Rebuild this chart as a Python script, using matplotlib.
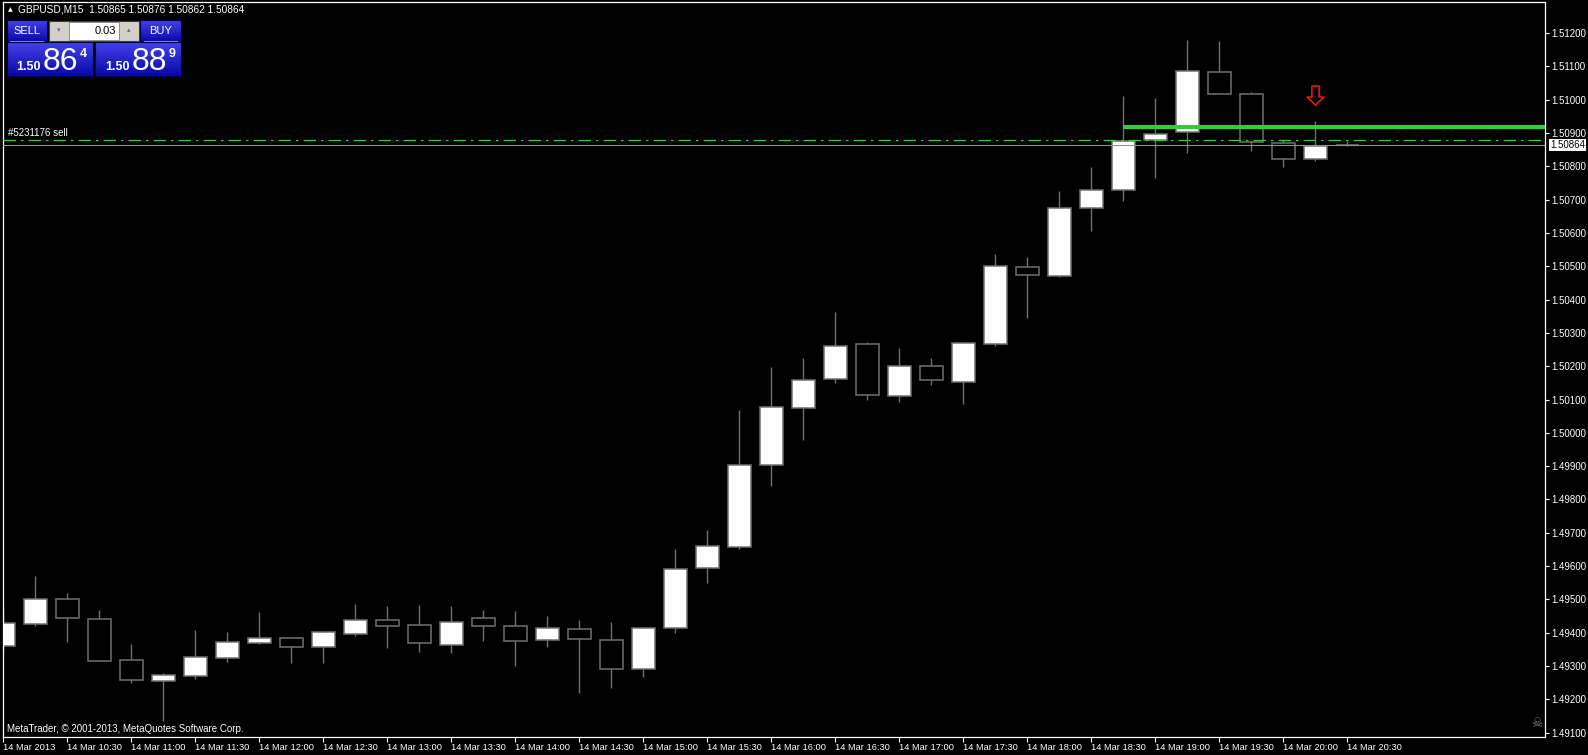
import numpy as np
import pandas as pd
import matplotlib
matplotlib.use('Agg')
import matplotlib.pyplot as plt
import matplotlib.transforms as mtransforms
from matplotlib.patches import Rectangle
from matplotlib.path import Path
from matplotlib.ticker import MultipleLocator, FormatStrFormatter
from matplotlib.colors import to_rgb

plt.rcParams['font.family'] = ['Liberation Sans', 'DejaVu Sans']

# GBPUSD M15 bars, 14 Mar 2013 10:00 - 20:30
times = pd.date_range('2013-03-14 10:00', periods=43, freq='15min')
opens = [1.49359, 1.49427, 1.49500, 1.49440, 1.49317, 1.49254, 1.49271, 1.49325, 1.49370, 1.49383,
         1.49358, 1.49397, 1.49437, 1.49422, 1.49362, 1.49443, 1.49419, 1.49377, 1.49410, 1.49377,
         1.49290, 1.49413, 1.49593, 1.49656, 1.49903, 1.50074, 1.50161, 1.50266, 1.50110, 1.50200,
         1.50152, 1.50266, 1.50497, 1.50470, 1.50674, 1.50728, 1.50878, 1.50902, 1.51082, 1.51016,
         1.50869, 1.50821, 1.50865]
highs = [1.49477, 1.49570, 1.49519, 1.49468, 1.49366, 1.49278, 1.49408, 1.49402, 1.49462, 1.49387,
         1.49402, 1.49486, 1.49480, 1.49483, 1.49480, 1.49468, 1.49465, 1.49450, 1.49438, 1.49432,
         1.49416, 1.49651, 1.49708, 1.50069, 1.50198, 1.50225, 1.50363, 1.50273, 1.50255, 1.50225,
         1.50273, 1.50537, 1.50528, 1.50725, 1.50798, 1.51011, 1.51005, 1.51179, 1.51176, 1.51023,
         1.50878, 1.50936, 1.50876]
lows = [1.49345, 1.49421, 1.49373, 1.49314, 1.49250, 1.49136, 1.49262, 1.49313, 1.49367, 1.49310,
        1.49310, 1.49390, 1.49354, 1.49342, 1.49340, 1.49375, 1.49300, 1.49357, 1.49220, 1.49235,
        1.49268, 1.49400, 1.49550, 1.49650, 1.49841, 1.49979, 1.50150, 1.50099, 1.50093, 1.50144,
        1.50087, 1.50262, 1.50346, 1.50469, 1.50607, 1.50697, 1.50766, 1.50841, 1.51016, 1.50847,
        1.50799, 1.50817, 1.50862]
closes = [1.49428, 1.49500, 1.49443, 1.49314, 1.49257, 1.49272, 1.49326, 1.49371, 1.49383, 1.49358,
          1.49401, 1.49437, 1.49421, 1.49368, 1.49431, 1.49419, 1.49374, 1.49413, 1.49380, 1.49290,
          1.49413, 1.49590, 1.49659, 1.49903, 1.50077, 1.50158, 1.50260, 1.50113, 1.50200, 1.50158,
          1.50269, 1.50500, 1.50473, 1.50674, 1.50728, 1.50875, 1.50896, 1.51085, 1.51016, 1.50872,
          1.50821, 1.50862, 1.50864]

bid = 1.50864
ask = 1.50889
lot = '0.03'
order_label = '#5231176 sell'
order_price = 1.50878      # open price of the sell order
tp_price = 1.50918         # horizontal line drawn from the 18:45 bar
tp_start = 35
signal_bar = 41            # red sell arrow
signal_price = 1.51015

tick_pos = list(range(0, 43, 2))
tick_labels = ['14 Mar 2013'] + [times[i].strftime('14 Mar %H:%M') for i in tick_pos[1:]]

# figure
fig = plt.figure(figsize=(15.88, 7.55), dpi=100, facecolor='black')
ax = fig.add_axes([2.5 / 1588, 18 / 755, 1542.5 / 1588, 735 / 755])
ax.set_facecolor('black')

x = np.arange(len(times))
o = np.array(opens)
c = np.array(closes)
edge = '#707070'
body_col = np.where(c > o, 'white', 'black')

ax.vlines(x, lows, highs, color=edge, lw=1.0, zorder=1)
ax.bar(x, c - o, bottom=o, width=0.72, color=body_col, edgecolor=edge, linewidth=1.1, zorder=2)

# order / price lines
ax.axhline(bid, color='#8592a0', lw=0.8, zorder=3)
ax.axhline(order_price, color='#32cd32', lw=0.9, ls=(0, (10, 4, 2, 4)), zorder=4)
ax.hlines(tp_price, tp_start, 60, color='#32cd32', lw=3, zorder=5)

# sell arrow
verts = [(-0.38, 1), (0.38, 1), (0.38, -0.16), (0.88, -0.16), (0, -1), (-0.88, -0.16), (-0.38, -0.16), (-0.38, 1)]
codes = [Path.MOVETO] + [Path.LINETO] * 6 + [Path.CLOSEPOLY]
ax.plot(signal_bar, signal_price, marker=Path(verts, codes), ms=13.7, mfc='black', mec='#ff1010',
        mew=1.1, ls='none', zorder=6)

blend = mtransforms.blended_transform_factory(ax.transAxes, ax.transData)
ax.annotate(order_label, xy=(0.0036, order_price), xycoords=blend, xytext=(0, 1.5),
            textcoords='offset points', va='bottom', ha='left', color='white', fontsize=7)
ax.annotate(f'{bid:.5f}', xy=(1, bid), xycoords=blend, xytext=(3.5, 0), textcoords='offset points',
            va='center', ha='left', color='black', fontsize=7, annotation_clip=False,
            bbox=dict(boxstyle='square,pad=0.12', fc='white', ec='none'))

ax.text(0.003, 0.011, 'MetaTrader, \u00a9 2001-2013, MetaQuotes Software Corp.', transform=ax.transAxes,
        color='white', fontsize=7, ha='left', va='center')
ax.text(0.9945, 0.019, '\u2620', transform=ax.transAxes, color='#7a7a7a', fontsize=9,
        ha='center', va='center', family='DejaVu Sans')

# axes
ax.set_xlim(-0.025, 48.18)
ax.set_ylim(1.490871, 1.512930)
ax.yaxis.tick_right()
ax.yaxis.set_major_locator(MultipleLocator(0.001))
ax.yaxis.set_major_formatter(FormatStrFormatter('%.5f'))
ax.tick_params(axis='y', direction='out', length=3, width=0.8, color='white', labelcolor='white',
               labelsize=7, pad=1.5)
ax.set_xticks(tick_pos)
ax.set_xticklabels(tick_labels)
for lab in ax.get_xticklabels():
    lab.set_horizontalalignment('left')
ax.tick_params(axis='x', direction='out', length=3.5, width=0.8, color='white', labelcolor='white',
               labelsize=6.7, pad=1)
for s in ax.spines.values():
    s.set_color('white')
    s.set_linewidth(0.9)

# header and one-click trading panel (pixel coordinates)
ov = fig.add_axes([0, 0, 1, 1], zorder=10)
ov.axis('off')
ov.patch.set_alpha(0)

ov.text(10.5, 9.5, '\u25b2', color='white', fontsize=4.5, ha='center', va='center', family='DejaVu Sans')
ov.text(18, 10, f'GBPUSD,M15  {opens[-1]:.5f} {highs[-1]:.5f} {lows[-1]:.5f} {closes[-1]:.5f}',
        color='white', fontsize=7.3, ha='left', va='center')


def blue_box(x0, y0, x1, y1, top='#4242ea', bottom='#0808a8'):
    g = np.linspace(0, 1, 40)[:, None, None]
    img = np.array(to_rgb(top)) * (1 - g) + np.array(to_rgb(bottom)) * g
    ov.imshow(img, extent=(x0, x1, y1, y0), origin='upper', aspect='auto', zorder=1,
              interpolation='bilinear')
    ov.add_patch(Rectangle((x0, y0), x1 - x0, y1 - y0, fill=False, ec='#00004a', lw=0.8, zorder=2))


blue_box(6.5, 20, 46.5, 42)
blue_box(140, 20, 181, 42)
blue_box(6.5, 42, 93, 76)
blue_box(95, 42, 181, 76)
for x0, x1 in [(10, 43), (144, 177)]:
    ov.plot([x0, x1], [41, 41], color='#9a9af0', lw=0.6, zorder=3)
ov.text(26.5, 30.5, 'SELL', color='white', fontsize=8, ha='center', va='center', zorder=3)
ov.text(160.5, 30.5, 'BUY', color='white', fontsize=8, ha='center', va='center', zorder=3)

# lot size spinner
ov.add_patch(Rectangle((48.5, 20.5), 90, 20, fc='#d4d0c8', ec='#404040', lw=0.8, zorder=2))
ov.add_patch(Rectangle((68.5, 21.5), 50, 18, fc='white', ec='#808080', lw=0.6, zorder=3))
ov.text(116, 30.5, lot, color='black', fontsize=8, ha='right', va='center', zorder=4)
ov.text(58.5, 30.5, '\u25be', color='#5a6a9a', fontsize=5, ha='center', va='center', zorder=4,
        family='DejaVu Sans')
ov.text(128.5, 30.5, '\u25b4', color='#5a6a9a', fontsize=5, ha='center', va='center', zorder=4,
        family='DejaVu Sans')

# bid / ask big digits
for price, x0 in [(bid, 16.5), (ask, 105)]:
    s = f'{price:.5f}'
    ov.text(x0, 70, s[:4], color='white', fontsize=9, fontweight='bold', ha='left', va='baseline',
            zorder=4)
    ov.text(x0 + 26.5, 70, s[4:6], color='white', fontsize=23, ha='left', va='baseline', zorder=4)
    ov.text(x0 + 63.5, 57, s[6], color='white', fontsize=9, fontweight='bold', ha='left',
            va='baseline', zorder=4)

ov.set_xlim(0, 1588)
ov.set_ylim(755, 0)

fig.savefig('out.png', dpi=100, facecolor='black')
